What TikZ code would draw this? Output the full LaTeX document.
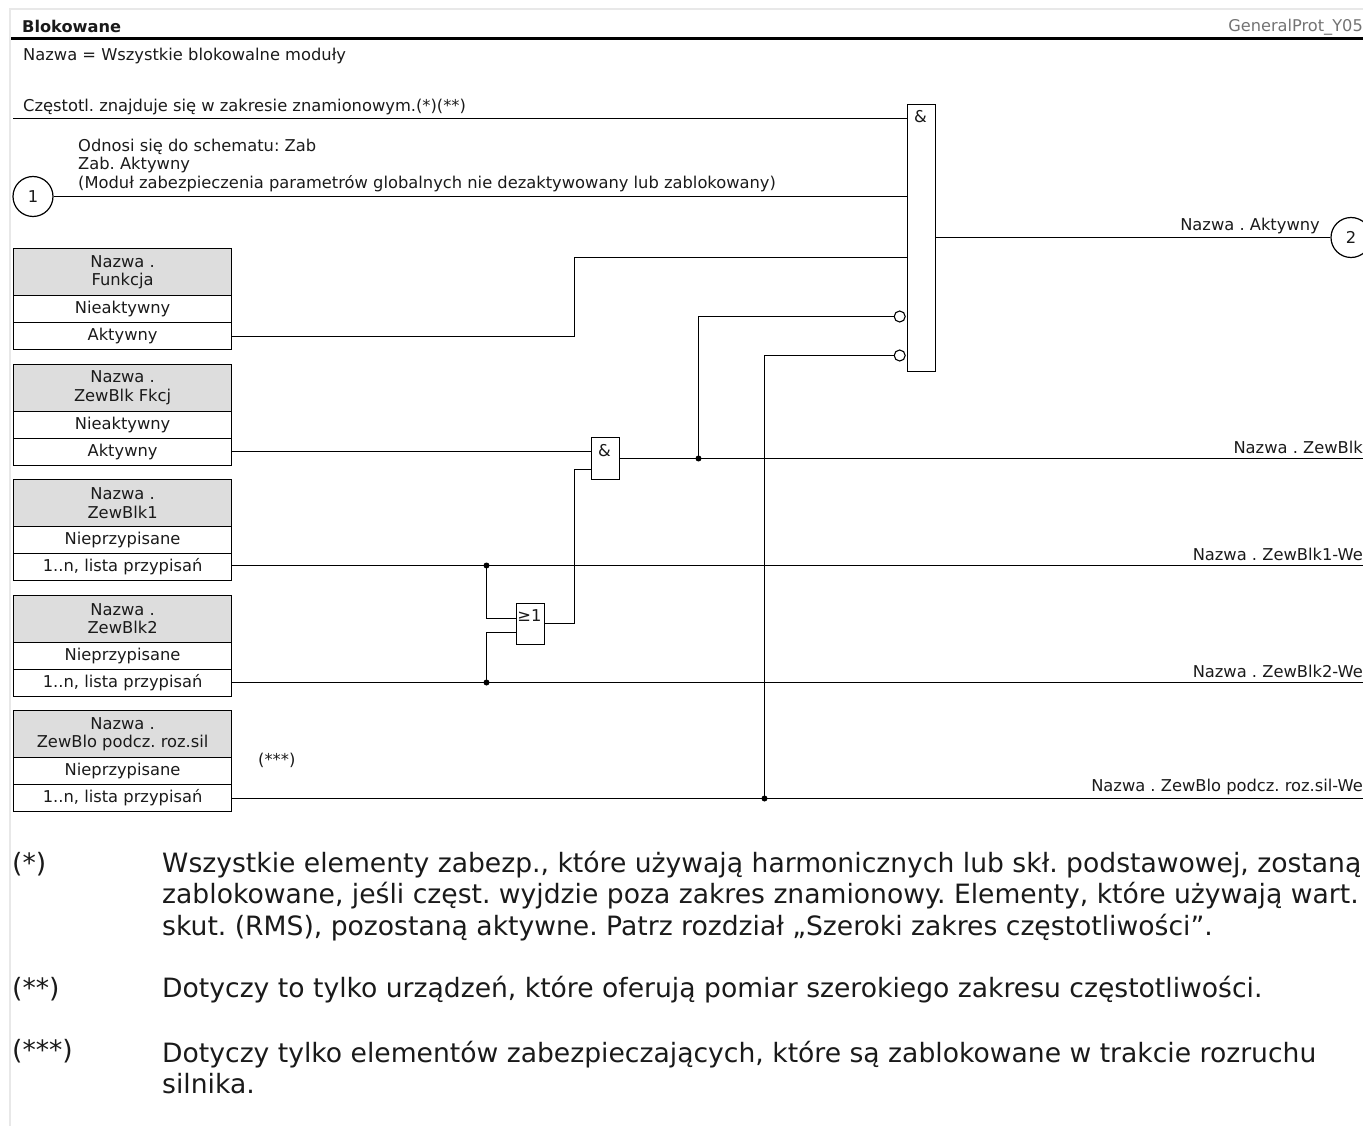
\documentclass[tikz,border=0pt]{standalone}
\usepackage{fontspec}
\setmainfont{DejaVu Sans}
\usepackage{tikz}
\usetikzlibrary{positioning}
\definecolor{mygray}{HTML}{DDDDDD}
\definecolor{myink}{HTML}{1A1A1A}
\tikzstyle{mytext} = [inner sep=0pt, text=myink, font=\fontsize{16.3}{18.5}\selectfont, align=left]
\tikzstyle{myfoot} = [inner sep=0pt, anchor=west, text=myink, font=\fontsize{26.6}{31.8}\selectfont, align=left]
\tikzstyle{myhead} = [draw=black, fill=mygray, line width=1.2pt, minimum width=218pt, minimum height=47pt, anchor=north west, inner sep=0pt, text=myink, font=\fontsize{16.3}{18.5}\selectfont, align=center]
\tikzstyle{myrow} = [draw=black, line width=1.2pt, minimum width=218pt, minimum height=27pt, anchor=north west, inner sep=0pt, text=myink, font=\fontsize{16.3}{18.5}\selectfont]
\tikzstyle{mygate} = [draw=black, fill=white, line width=1.2pt, anchor=north west, inner sep=0pt, minimum width=27.5pt]
\tikzstyle{myport} = [circle, draw=black, line width=1.2pt, minimum size=40pt, inner sep=0pt, text=myink, font=\fontsize{16.3}{18}\selectfont]
\tikzstyle{mynot} = [circle, draw=black, fill=white, line width=1.1pt, minimum size=11pt, inner sep=0pt]
\tikzstyle{mydot} = [circle, fill=black, minimum size=6pt, inner sep=0pt]
\tikzstyle{mywire} = [line width=1.2pt, black]
\begin{document}
\frenchspacing
\begin{tikzpicture}[x=1pt, y=-1pt]
        \useasboundingbox (0,0) rectangle (1363,1126);

        % Frame and title
        \draw[color=black!9, line width=2pt] (10,1126) -- (10,9) -- (1363,9);
        \draw[black, line width=3pt] (11,39) -- (1363,39);
        \node[mytext, anchor=west, font=\fontsize{16.2}{18}\selectfont\bfseries] (title) at (22,26) {Blokowane};
        \node[mytext, anchor=east, text=black!55, font=\fontsize{16.2}{18}\selectfont] (ident) at (1363,27.5) {GeneralProt\_Y05};
        \node[mytext, anchor=west] (name) at (23,56) {Nazwa = Wszystkie blokowalne moduły};

        % Setting boxes
        \node[myhead] (fun_h) at (13,248) {Nazwa .\\Funkcja};
        \node[myrow] (fun_off) at (13,295) {Nieaktywny};
        \node[myrow] (fun_on) at (13,322) {Aktywny};
        \node[myhead] (fblk_h) at (13,363.5) {Nazwa .\\ZewBlk Fkcj};
        \node[myrow] (fblk_off) at (13,410.5) {Nieaktywny};
        \node[myrow] (fblk_on) at (13,437.5) {Aktywny};
        \node[myhead] (blk1_h) at (13,479) {Nazwa .\\ZewBlk1};
        \node[myrow] (blk1_off) at (13,526) {Nieprzypisane};
        \node[myrow] (blk1_on) at (13,553) {1..n, lista przypisań};
        \node[myhead] (blk2_h) at (13,594.5) {Nazwa .\\ZewBlk2};
        \node[myrow] (blk2_off) at (13,641.5) {Nieprzypisane};
        \node[myrow] (blk2_on) at (13,668.5) {1..n, lista przypisań};
        \node[myhead] (blo_h) at (13,710) {Nazwa .\\ZewBlo podcz. roz.sil};
        \node[myrow] (blo_off) at (13,757) {Nieprzypisane};
        \node[myrow] (blo_on) at (13,784) {1..n, lista przypisań};

        % Gates
        \node[mygate, minimum height=267pt] (and_a) at (907,104) {};
        \node[mytext, anchor=center] (and_a_t) at (920.5,116.5) {\&};
        \node[mygate, minimum height=41.5pt] (and_b) at (591,437) {};
        \node[mytext, anchor=center] (and_b_t) at (604.5,451) {\&};
        \node[mygate, minimum height=41pt] (or_a) at (516,603) {};
        \node[mytext, anchor=center] (or_a_t) at (529.5,616) {≥1};

        % Ports
        \node[myport] (port_1) at (33,196.5) {1};
        \node[myport] (port_2) at (1351,237.5) {2};

        % Junctions
        \node[mydot] (j_blk1) at (486.5,565.5) {};
        \node[mydot] (j_blk2) at (486.5,682.5) {};
        \node[mydot] (j_ext) at (698.5,458.5) {};
        \node[mydot] (j_blo) at (764.5,798.5) {};
        \node[mynot] (not_a) at (899.7,316.5) {};
        \node[mynot] (not_b) at (899.7,355.5) {};
        \coordinate (freq_s) at (13,118.5);
        \coordinate (out_ext) at (1363,458.5);
        \coordinate (out_blk1) at (1363,565.5);
        \coordinate (out_blk2) at (1363,682.5);
        \coordinate (out_blo) at (1363,798.5);

        % Wires to the main gate
        \draw[mywire] (freq_s) -- (freq_s -| and_a.west);
        \draw[mywire] (port_1.east) -- (port_1.east -| and_a.west);
        \draw[mywire] (fun_on.east |- 0,336.5) -| (574.5,257.5) -- (and_a.west |- 0,257.5);
        \draw[mywire] (j_ext.center) |- (not_a.west);
        \draw[mywire] (j_blo.center) |- (not_b.west);
        \draw[mywire] (and_a.east |- port_2.west) -- (port_2.west);

        % Wires around the small gates
        \draw[mywire] (fblk_on.east |- 0,451.5) -- (and_b.west |- 0,451.5);
        \draw[mywire] (and_b.east |- j_ext) -- (out_ext);
        \draw[mywire] (blk1_on.east |- j_blk1) -- (out_blk1);
        \draw[mywire] (blk2_on.east |- j_blk2) -- (out_blk2);
        \draw[mywire] (blo_on.east |- j_blo) -- (out_blo);
        \draw[mywire] (j_blk1.center) |- (or_a.west |- 0,618.5);
        \draw[mywire] (j_blk2.center) |- (or_a.west |- 0,632.5);
        \draw[mywire] (or_a.east |- 0,623.5) -| (574.5,469.5) -- (and_b.west |- 0,469.5);

        % Wire labels
        \node[mytext, anchor=west] (freq_t) at (23,107) {Częstotl. znajduje się w zakresie znamionowym.(*)(**)};
        \node[mytext, anchor=west] (prot_t) at (78,165.5) {Odnosi się do schematu: Zab\\Zab. Aktywny\\(Moduł zabezpieczenia parametrów globalnych nie dezaktywowany lub zablokowany)};
        \node[mytext, anchor=east] (act_t) at (1320,226) {Nazwa . Aktywny};
        \node[mytext, anchor=east] (ext_t) at (1363,447) {Nazwa . ZewBlk};
        \node[mytext, anchor=east] (blk1_t) at (1363,554) {Nazwa . ZewBlk1-We};
        \node[mytext, anchor=east] (blk2_t) at (1363,671) {Nazwa . ZewBlk2-We};
        \node[mytext, anchor=east] (blo_t) at (1363,786.5) {Nazwa . ZewBlo podcz. roz.sil-We};
        \node[mytext, anchor=west] (note_t) at (258,760) {(***)};

        % Footnotes
        \node[myfoot] (f1) at (12,864.5) {(*)};
        \node[myfoot] (f1_t) at (162,896) {Wszystkie elementy zabezp., które używają harmonicznych lub skł. podstawowej, zostaną\\zablokowane, jeśli częst. wyjdzie poza zakres znamionowy. Elementy, które używają wart.\\skut. (RMS), pozostaną aktywne. Patrz rozdział „Szeroki zakres częstotliwości”.};
        \node[myfoot] (f2) at (12,989.5) {(**)};
        \node[myfoot] (f2_t) at (162,989.5) {Dotyczy to tylko urządzeń, które oferują pomiar szerokiego zakresu częstotliwości.};
        \node[myfoot] (f3) at (12,1051) {(***)};
        \node[myfoot] (f3_t) at (162,1067.5) {Dotyczy tylko elementów zabezpieczających, które są zablokowane w trakcie rozruchu\\silnika.};
\end{tikzpicture}
\end{document}
